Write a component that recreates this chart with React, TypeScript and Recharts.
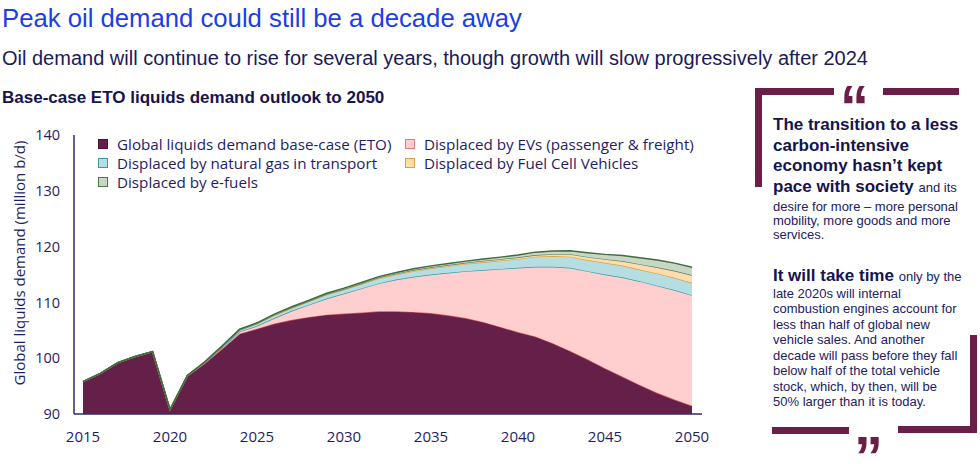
import React from 'react';
import { AreaChart, Area, XAxis, YAxis } from 'recharts';

const years = [2015, 2016, 2017, 2018, 2019, 2020, 2021, 2022, 2023, 2024, 2025, 2026, 2027, 2028, 2029, 2030, 2031, 2032, 2033, 2034, 2035, 2036, 2037, 2038, 2039, 2040, 2041, 2042, 2043, 2044, 2045, 2046, 2047, 2048, 2049, 2050];
const baseCase = [95.8, 97.3, 99.2, 100.3, 101.2, 90.8, 96.8, 99.1, 101.7, 104.4, 105.3, 106.2, 106.9, 107.4, 107.8, 108.0, 108.2, 108.4, 108.4, 108.3, 108.1, 107.7, 107.2, 106.5, 105.6, 104.7, 103.9, 102.7, 101.3, 99.8, 98.2, 96.7, 95.2, 93.8, 92.6, 91.5];
const evs = [0, 0, 0, 0, 0, 0, 0.05, 0.1, 0.2, 0.35, 0.5, 1.0, 1.6, 2.2, 2.9, 3.6, 4.3, 5.0, 5.7, 6.3, 6.9, 7.6, 8.4, 9.3, 10.4, 11.5, 12.5, 13.7, 14.9, 15.8, 16.8, 17.8, 18.6, 19.2, 19.6, 19.8];
const naturalGas = [0, 0, 0, 0, 0, 0, 0.05, 0.1, 0.2, 0.3, 0.4, 0.5, 0.5, 0.6, 0.7, 0.7, 0.8, 0.9, 0.9, 1.0, 1.1, 1.2, 1.3, 1.4, 1.5, 1.6, 1.8, 1.9, 2.0, 2.0, 2.1, 2.1, 2.1, 2.2, 2.2, 2.2];
const fuelCell = [0, 0, 0, 0, 0, 0, 0, 0.02, 0.03, 0.05, 0.05, 0.1, 0.1, 0.1, 0.1, 0.1, 0.1, 0.15, 0.15, 0.2, 0.2, 0.2, 0.2, 0.25, 0.25, 0.3, 0.3, 0.35, 0.45, 0.55, 0.65, 0.8, 0.95, 1.1, 1.25, 1.4];
const eFuels = [0, 0, 0, 0, 0, 0, 0.03, 0.05, 0.08, 0.1, 0.1, 0.1, 0.12, 0.12, 0.14, 0.15, 0.16, 0.18, 0.2, 0.22, 0.25, 0.28, 0.3, 0.33, 0.36, 0.4, 0.5, 0.55, 0.6, 0.75, 0.85, 1.0, 1.15, 1.3, 1.4, 1.4];
const xTicks = [2015, 2020, 2025, 2030, 2035, 2040, 2045, 2050];
const yTicks = [90, 100, 110, 120, 130, 140];

const data = years.map((year, i) => ({
  year,
  base: baseCase[i],
  ev: evs[i],
  gas: naturalGas[i],
  fcv: fuelCell[i],
  efuel: eFuels[i],
}));

const NAVY = '#1F1D63';
const AXIS = '#2E2B6E';
const MAROON = '#6A1E48';

const series = [
  { key: 'base', name: 'Global liquids demand base-case (ETO)', fill: '#65204A', border: '#4A1535', stroke: '#D9565E' },
  { key: 'ev', name: 'Displaced by EVs (passenger & freight)', fill: '#FFCFD0', border: '#E27A7E', stroke: '#3A98A8' },
  { key: 'gas', name: 'Displaced by natural gas in transport', fill: '#B5DEE3', border: '#3A98A8', stroke: '#D9A040' },
  { key: 'fcv', name: 'Displaced by Fuel Cell Vehicles', fill: '#FDDDB0', border: '#D9A040', stroke: '#5B7F55' },
  { key: 'efuel', name: 'Displaced by e-fuels', fill: '#C7D7C3', border: '#4F774B', stroke: '#3F6B3F' },
];
const legendOrder = ['base', 'ev', 'gas', 'fcv', 'efuel'];

const sans = '"Liberation Sans", Arial, sans-serif';
const chartFont = '"Open Sans", sans-serif';

export default function App() {
  return (
    <div style={{ position: 'absolute', left: 0, top: 0, width: 980, height: 464, background: '#fff', overflow: 'hidden', fontFamily: sans }}>
      <div style={{ position: 'absolute', left: 2, top: 5, fontSize: 25.7, lineHeight: '26px', color: '#1B3FE0', whiteSpace: 'nowrap' }}>
        Peak oil demand could still be a decade away
      </div>
      <div style={{ position: 'absolute', left: 2, top: 47, fontSize: 20, lineHeight: '22px', color: '#1A1A58', whiteSpace: 'nowrap' }}>
        Oil demand will continue to rise for several years, though growth will slow progressively after 2024
      </div>
      <div style={{ position: 'absolute', left: 2, top: 89, fontSize: 17, fontWeight: 'bold', lineHeight: '18px', color: '#14144F', whiteSpace: 'nowrap' }}>
        Base-case ETO liquids demand outlook to 2050
      </div>

      <div style={{ position: 'absolute', left: 0, top: 0 }}>
        <AreaChart width={740} height={464} data={data} margin={{ top: 135, right: 38, bottom: 20, left: 0 }}>
          <XAxis
            dataKey="year"
            type="number"
            domain={[2015, 2050]}
            ticks={xTicks}
            padding={{ left: 9, right: 10 }}
            tickLine={false}
            axisLine={{ stroke: AXIS, strokeWidth: 1.5 }}
            tick={{ fill: NAVY, fontSize: 15, fontFamily: chartFont }}
            tickMargin={11}
            height={30}
          />
          <YAxis
            domain={[90, 140]}
            ticks={yTicks}
            allowDataOverflow
            width={74}
            tickLine={false}
            axisLine={{ stroke: AXIS, strokeWidth: 1.5 }}
            tick={{ fill: NAVY, fontSize: 14.5, fontFamily: chartFont }}
            tickMargin={8}
          />
          {series.map((s) => (
            <Area
              key={s.key}
              type="linear"
              dataKey={s.key}
              name={s.name}
              stackId="1"
              fill={s.fill}
              fillOpacity={1}
              stroke={s.stroke}
              strokeWidth={1.4}
              isAnimationActive={false}
              dot={false}
              activeDot={false}
            />
          ))}
        </AreaChart>
      </div>

      <div style={{ position: 'absolute', left: 19, top: 263, transform: 'translate(-50%, -50%) rotate(-90deg)', fontFamily: chartFont, fontSize: 15, color: NAVY, whiteSpace: 'nowrap' }}>
        Global liquids demand (million b/d)
      </div>

      <div style={{ position: 'absolute', left: 98, top: 135, width: 330, display: 'grid', gridTemplateColumns: '307px 300px', fontFamily: chartFont, fontSize: 15.2, color: NAVY }}>
        {legendOrder.map((k) => {
          const s = series.find((x) => x.key === k)!;
          return (
            <div key={k} style={{ display: 'flex', alignItems: 'center', height: 18.7, whiteSpace: 'nowrap' }}>
              <span style={{ display: 'inline-block', flex: 'none', width: 8, height: 8, background: s.fill, border: `1px solid ${s.border}`, marginRight: 9 }} />
              <span>{s.name}</span>
            </div>
          );
        })}
      </div>

      {/* quote panel */}
      <div style={{ position: 'absolute', left: 755, top: 88, width: 79, height: 7, background: MAROON }} />
      <div style={{ position: 'absolute', left: 755, top: 88, width: 7, height: 99, background: MAROON }} />
      <div style={{ position: 'absolute', left: 883, top: 88, width: 76, height: 7, background: MAROON }} />
      <div style={{ position: 'absolute', left: 840, top: 98, fontSize: 58, fontWeight: 'bold', lineHeight: '16px', color: MAROON }}>“</div>

      <div style={{ position: 'absolute', left: 772, top: 427, width: 77, height: 7, background: MAROON }} />
      <div style={{ position: 'absolute', left: 898, top: 426, width: 79, height: 7, background: MAROON }} />
      <div style={{ position: 'absolute', left: 970, top: 335, width: 7, height: 98, background: MAROON }} />
      <div style={{ position: 'absolute', left: 854, top: 452, fontSize: 58, fontWeight: 'bold', lineHeight: '10px', color: MAROON }}>”</div>

      <div style={{ position: 'absolute', left: 773, top: 115, fontSize: 17, fontWeight: 'bold', lineHeight: '20.5px', color: '#14144F', whiteSpace: 'nowrap' }}>
        The transition to a less<br />carbon-intensive<br />economy hasn’t kept<br />pace with society{' '}
        <span style={{ fontSize: 13, fontWeight: 'normal', color: '#22215F' }}>and its</span>
      </div>
      <div style={{ position: 'absolute', left: 773, top: 200, fontSize: 13, lineHeight: '14px', color: '#22215F', whiteSpace: 'nowrap' }}>
        desire for more – more personal<br />mobility, more goods and more<br />services.
      </div>
      <div style={{ position: 'absolute', left: 773, top: 266, fontSize: 17, fontWeight: 'bold', lineHeight: '20px', color: '#14144F', whiteSpace: 'nowrap' }}>
        It will take time{' '}
        <span style={{ fontSize: 13, fontWeight: 'normal', color: '#22215F' }}>only by the</span>
      </div>
      <div style={{ position: 'absolute', left: 773, top: 285.5, fontSize: 13, lineHeight: '15.5px', color: '#22215F', whiteSpace: 'nowrap' }}>
        late 2020s will internal<br />combustion engines account for<br />less than half of global new<br />vehicle sales. And another<br />decade will pass before they fall<br />below half of the total vehicle<br />stock, which, by then, will be<br />50% larger than it is today.
      </div>
    </div>
  );
}
